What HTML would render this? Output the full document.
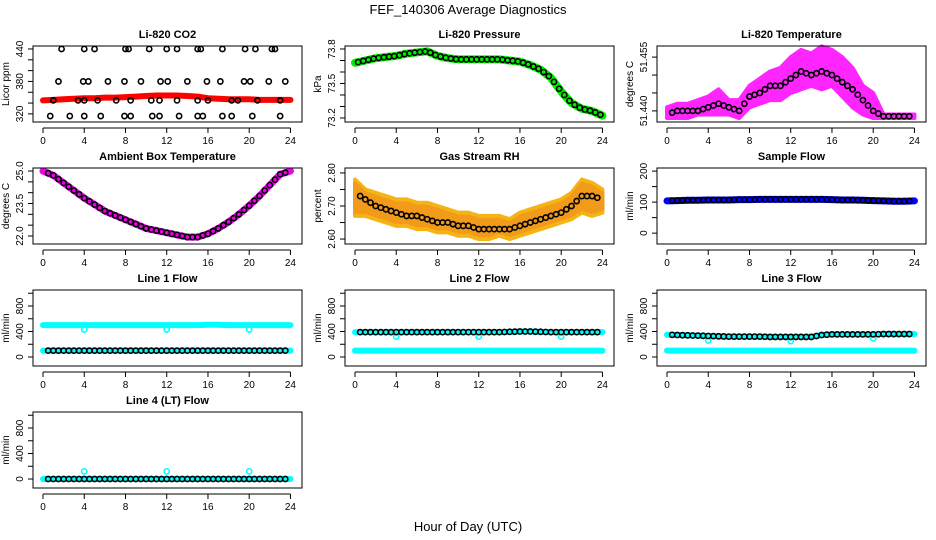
<!DOCTYPE html>
<html><head><meta charset="utf-8"><style>
html,body{margin:0;padding:0;background:#fff}
svg{display:block;font-family:"Liberation Sans",sans-serif}
</style></head><body>
<svg id="c" width="936" height="540" viewBox="0 0 936 540">
<text x="468" y="14" text-anchor="middle" font-size="13">FEF_140306  Average Diagnostics</text>
<text x="468" y="531" text-anchor="middle" font-size="13">Hour of Day (UTC)</text>
</svg>
<script>
// ---- data ----
const hours = [0,1,2,3,4,5,6,7,8,9,10,11,12,13,14,15,16,17,18,19,20,21,22,23,24];
const co2Band = [345,346,347,348,349,349,350,350,351,352,353,354,354,354,353,352,349,348,347,347,347,346,346,346,346];
const co2HiH = [1.8,4,5,8,8.3,10.3,12,13,15,15.3,17.4,19.6,20.6,22.2,22.5];
const co2MidH = [1.5,3.9,4.4,6.3,7.9,9.5,11.4,12.1,14,15.9,17.2,19.5,20.1,21.9,23.5];
const co2MedH = [1,3.4,4,5.3,7.1,8.5,10.5,11.3,13,15,16,18.3,18.9,20.8,23];
const co2LoH = [0.7,2.6,4,5.6,7.9,8.5,10.6,11.3,13.2,15,15.5,17.4,18.3,20.3,23];
const co2Levels = [440,380,345,316];
const pressure = [73.68,73.70,73.72,73.73,73.74,73.76,73.77,73.78,73.74,73.72,73.71,73.71,73.71,73.71,73.71,73.70,73.69,73.66,73.62,73.55,73.43,73.33,73.28,73.26,73.22];
const tempLo = [51.438,51.438,51.438,51.439,51.439,51.439,51.439,51.438,51.441,51.442,51.443,51.443,51.445,51.446,51.447,51.446,51.447,51.444,51.441,51.439,51.438,51.438,51.438,51.438,51.438];
const tempHi = [51.441,51.442,51.442,51.443,51.444,51.446,51.443,51.443,51.447,51.449,51.451,51.452,51.455,51.457,51.456,51.458,51.457,51.455,51.452,51.447,51.445,51.439,51.439,51.439,51.439];
const tempMean = [51.439,51.440,51.440,51.440,51.441,51.442,51.441,51.440,51.444,51.445,51.447,51.447,51.449,51.451,51.450,51.451,51.450,51.448,51.446,51.443,51.440,51.4385,51.4385,51.4385,51.4385];
const ambient = [25.0,24.8,24.45,24.1,23.75,23.45,23.15,22.95,22.75,22.55,22.35,22.25,22.15,22.05,21.95,21.95,22.1,22.35,22.65,23.0,23.4,23.85,24.35,24.85,25.0];
const rhLo = [2.67,2.67,2.66,2.65,2.64,2.64,2.63,2.63,2.62,2.62,2.61,2.61,2.60,2.60,2.61,2.60,2.61,2.62,2.63,2.64,2.65,2.66,2.68,2.67,2.68];
const rhHi = [2.78,2.75,2.74,2.73,2.72,2.72,2.71,2.71,2.70,2.69,2.68,2.68,2.67,2.67,2.67,2.66,2.68,2.69,2.70,2.71,2.72,2.74,2.78,2.77,2.75];
const rhMean = [2.74,2.72,2.70,2.69,2.68,2.67,2.67,2.66,2.65,2.65,2.64,2.64,2.63,2.63,2.63,2.63,2.64,2.65,2.66,2.67,2.68,2.70,2.73,2.73,2.72];
const sampleFlow = [104,105,106,106,107,107,107,108,108,109,109,109,109,109,109,109,108,107,107,106,105,104,103,103,104];
const line1Hi = [500,500,500,500,500,500,500,500,500,500,500,500,500,500,500,500,505,505,500,500,500,500,500,500,500];
const line1Lo = [100,100,100,100,100,100,100,100,100,100,100,100,100,100,100,100,100,100,100,100,100,100,100,100,100];
const line1Dips = [4,12,20];
const line1DipVal = [430,430,430];
const line2Main = [390,390,390,390,390,390,390,390,390,390,390,390,390,390,390,395,400,400,395,390,390,390,390,390,390];
const line2Lo = [100,100,100,100,100,100,100,100,100,100,100,100,100,100,100,100,100,100,100,100,100,100,100,100,100];
const line2DipVal = [320,320,320];
const line3Main = [350,345,340,335,330,325,320,320,320,320,315,315,315,315,315,345,355,355,355,355,355,360,360,360,360];
const line3Lo = [100,100,100,100,100,100,100,100,100,100,100,100,100,100,100,100,100,100,100,100,100,100,100,100,100];
const line3DipVal = [260,250,290];
const line4Main = [0,0,0,0,0,0,0,0,0,0,0,0,0,0,0,0,0,0,0,0,0,0,0,0,0];
const line4Spike = [120,120,120];
const xTicks = [0,4,8,12,16,20,24];
// ---- drawing ----
const NS = "http://www.w3.org/2000/svg";
const svg = document.getElementById('c');
function mk(tag, attrs, parent){const e=document.createElementNS(NS,tag);for(const k in attrs)e.setAttribute(k,attrs[k]);(parent||svg).appendChild(e);return e;}
function interp(arr, h){const i=Math.min(Math.floor(h),23);const f=h-i;return arr[i]*(1-f)+arr[i+1]*f;}
const XL=-0.97, XR=25.12;
function panel(r,c,title,ylab,ylim,yticks,ylabels,name){
  const L=33+312*c, R=302+312*c, T=46+122*r, B=122+122*r;
  const g=mk('g',{});
  
  
  const sx=h=>L+(h-XL)/(XR-XL)*(R-L);
  const sy=v=>B-(v-ylim[0])/(ylim[1]-ylim[0])*(B-T);
  const t=mk('text',{x:(L+R)/2,y:T-8,'text-anchor':'middle','font-size':11,'font-weight':'bold'},g);t.textContent=title;
  
  
  const plot=mk('g',{},g);
  
  
  const box=mk('rect',{x:L,y:T,width:R-L,height:B-T,fill:'none',stroke:'#000','stroke-width':1},g);
  
  
  const xa=mk('g',{},g);
  
  
  mk('line',{x1:sx(0),x2:sx(24),y1:B+6,y2:B+6,stroke:'#000'},xa);
  xTicks.forEach(h=>{mk('line',{x1:sx(h),x2:sx(h),y1:B+6,y2:B+11,stroke:'#000'},xa);
    const tt=mk('text',{x:sx(h),y:B+22,'text-anchor':'middle','font-size':10},xa);tt.textContent=h;});
  const ya=mk('g',{},g);
  
  
  mk('line',{x1:L,x2:L,y1:sy(yticks[0]),y2:sy(yticks[yticks.length-1]),stroke:'#000'},ya);
  yticks.forEach((v)=>{mk('line',{x1:L-5,x2:L,y1:sy(v),y2:sy(v),stroke:'#000'},ya);});
  ylabels.forEach(([v,s])=>{const tt=mk('text',{x:0,y:0,'text-anchor':'middle','font-size':10,transform:`translate(${L-10},${sy(v)}) rotate(-90)`},ya);tt.textContent=s;});
  const yt=mk('text',{x:0,y:0,'text-anchor':'middle','font-size':10,transform:`translate(${L-24},${(T+B)/2}) rotate(-90)`},g);yt.textContent=ylab;
  
  
  return {plot,sx,sy};
}
function band(P,vals,color,w,nm){const d=hours.map((h,i)=>(i?'L':'M')+P.sx(h)+' '+P.sy(vals[i])).join(' ');
  const p=mk('path',{d,fill:'none',stroke:color,'stroke-width':w,'stroke-linecap':'round','stroke-linejoin':'round'},P.plot);
  
  }
function area(P,lo,hi,color,nm,op){let d=hours.map((h,i)=>(i?'L':'M')+P.sx(h)+' '+P.sy(hi[i])).join(' ');
  for(let i=hours.length-1;i>=0;i--)d+=' L'+P.sx(hours[i])+' '+P.sy(lo[i]);
  const p=mk('path',{d:d+'Z',fill:color,stroke:color,'stroke-width':4,'stroke-linejoin':'round',opacity:op||1},P.plot);
  
  }
function pts(P,hs,vs,color,nm,r,sw){hs.forEach((h,i)=>{const c=mk('circle',{cx:P.sx(h),cy:P.sy(vs[i]),r:r||2.6,fill:'none',stroke:color,'stroke-width':sw||1.6},P.plot);
  
  });}
function halfPts(P,arr,color,nm,start){const hs=[],vs=[];for(let h=start||0.5;h<=23.9;h+=0.5){hs.push(h);vs.push(interp(arr,h));}pts(P,hs,vs,color,nm);}
const range=(a,b,s)=>{const o=[];for(let v=a;v<=b+1e-9;v+=s)o.push(+v.toFixed(4));return o;};

// CO2
let P=panel(0,0,'Li-820 CO2','Licor ppm',[305,445.5],range(320,440,20),[[320,'320'],[380,'380'],[440,'440']],'co2');
band(P,co2Band,'#f00',6,'co2-series');
[co2HiH,co2MidH,co2MedH,co2LoH].forEach((a,i)=>pts(P,a,a.map(()=>co2Levels[i]),'#000','co2-mean-point'));
// Pressure
P=panel(0,1,'Li-820 Pressure','kPa',[73.165,73.826],range(73.2,73.8,0.1),[[73.2,'73.2'],[73.5,'73.5'],[73.8,'73.8']],'pressure');
band(P,pressure,'#0e0',8,'pressure-series');
halfPts(P,pressure,'#000','pressure-mean-point',0.3);
// Temperature
P=panel(0,2,'Li-820 Temperature','degrees C',[51.4369,51.4581],range(51.44,51.455,0.005),[[51.44,'51.440'],[51.455,'51.455']],'temperature');
area(P,tempLo,tempHi,'#f0f','temperature-series',0.85);
halfPts(P,tempMean,'#000','temperature-mean-point',0.5);
// Ambient
P=panel(1,0,'Ambient Box Temperature','degrees C',[21.63,25.14],range(22,25,0.5),[[22,'22.0'],[23.5,'23.5'],[25,'25.0']],'ambient');
band(P,ambient,'#e0e',7,'ambient-series');
halfPts(P,ambient,'#000','ambient-mean-point',0.5);
// RH
P=panel(1,1,'Gas Stream RH','percent',[2.585,2.815],range(2.6,2.8,0.05),[[2.6,'2.60'],[2.7,'2.70'],[2.8,'2.80']],'rh');
area(P,rhLo,rhHi,'#f4b414','rh-series');
area(P,rhLo.map(v=>v+0.012),rhHi.map(v=>v-0.012),'#f29a1a','rh-series-core');
halfPts(P,rhMean,'#000','rh-mean-point',0.5);
// Sample flow
P=panel(1,2,'Sample Flow','ml/min',[-35,210],range(0,200,50),[[0,'0'],[100,'100'],[200,'200']],'sample-flow');
band(P,sampleFlow,'#00f',7,'sample-flow-series');
halfPts(P,sampleFlow,'#000','sample-flow-mean-point',0.5);
// Line flows
const fl=[-141,1051], ft=range(0,1000,200), fll=[[0,'0'],[400,'400'],[800,'800']];
P=panel(2,0,'Line 1 Flow','ml/min',fl,ft,fll,'line1');
band(P,line1Hi,'#0ff',6,'line1-series-high');band(P,line1Lo,'#0ff',6,'line1-series-low');
pts(P,line1Dips,line1DipVal,'#0ff','line1-dip');
halfPts(P,line1Lo,'#000','line1-mean-point',0.5);
P=panel(2,1,'Line 2 Flow','ml/min',fl,ft,fll,'line2');
band(P,line2Main,'#0ff',6,'line2-series');band(P,line2Lo,'#0ff',6,'line2-series-low');
pts(P,line1Dips,line2DipVal,'#0ff','line2-dip');
halfPts(P,line2Main,'#000','line2-mean-point',0.5);
P=panel(2,2,'Line 3 Flow','ml/min',fl,ft,fll,'line3');
band(P,line3Main,'#0ff',6,'line3-series');band(P,line3Lo,'#0ff',6,'line3-series-low');
pts(P,line1Dips,line3DipVal,'#0ff','line3-dip');
halfPts(P,line3Main,'#000','line3-mean-point',0.5);
P=panel(3,0,'Line 4 (LT) Flow','ml/min',fl,ft,fll,'line4');
band(P,line4Main,'#0ff',6,'line4-series');
pts(P,line1Dips,line4Spike,'#0ff','line4-spike');
halfPts(P,line4Main,'#000','line4-mean-point',0.5);
</script>
</body></html>
